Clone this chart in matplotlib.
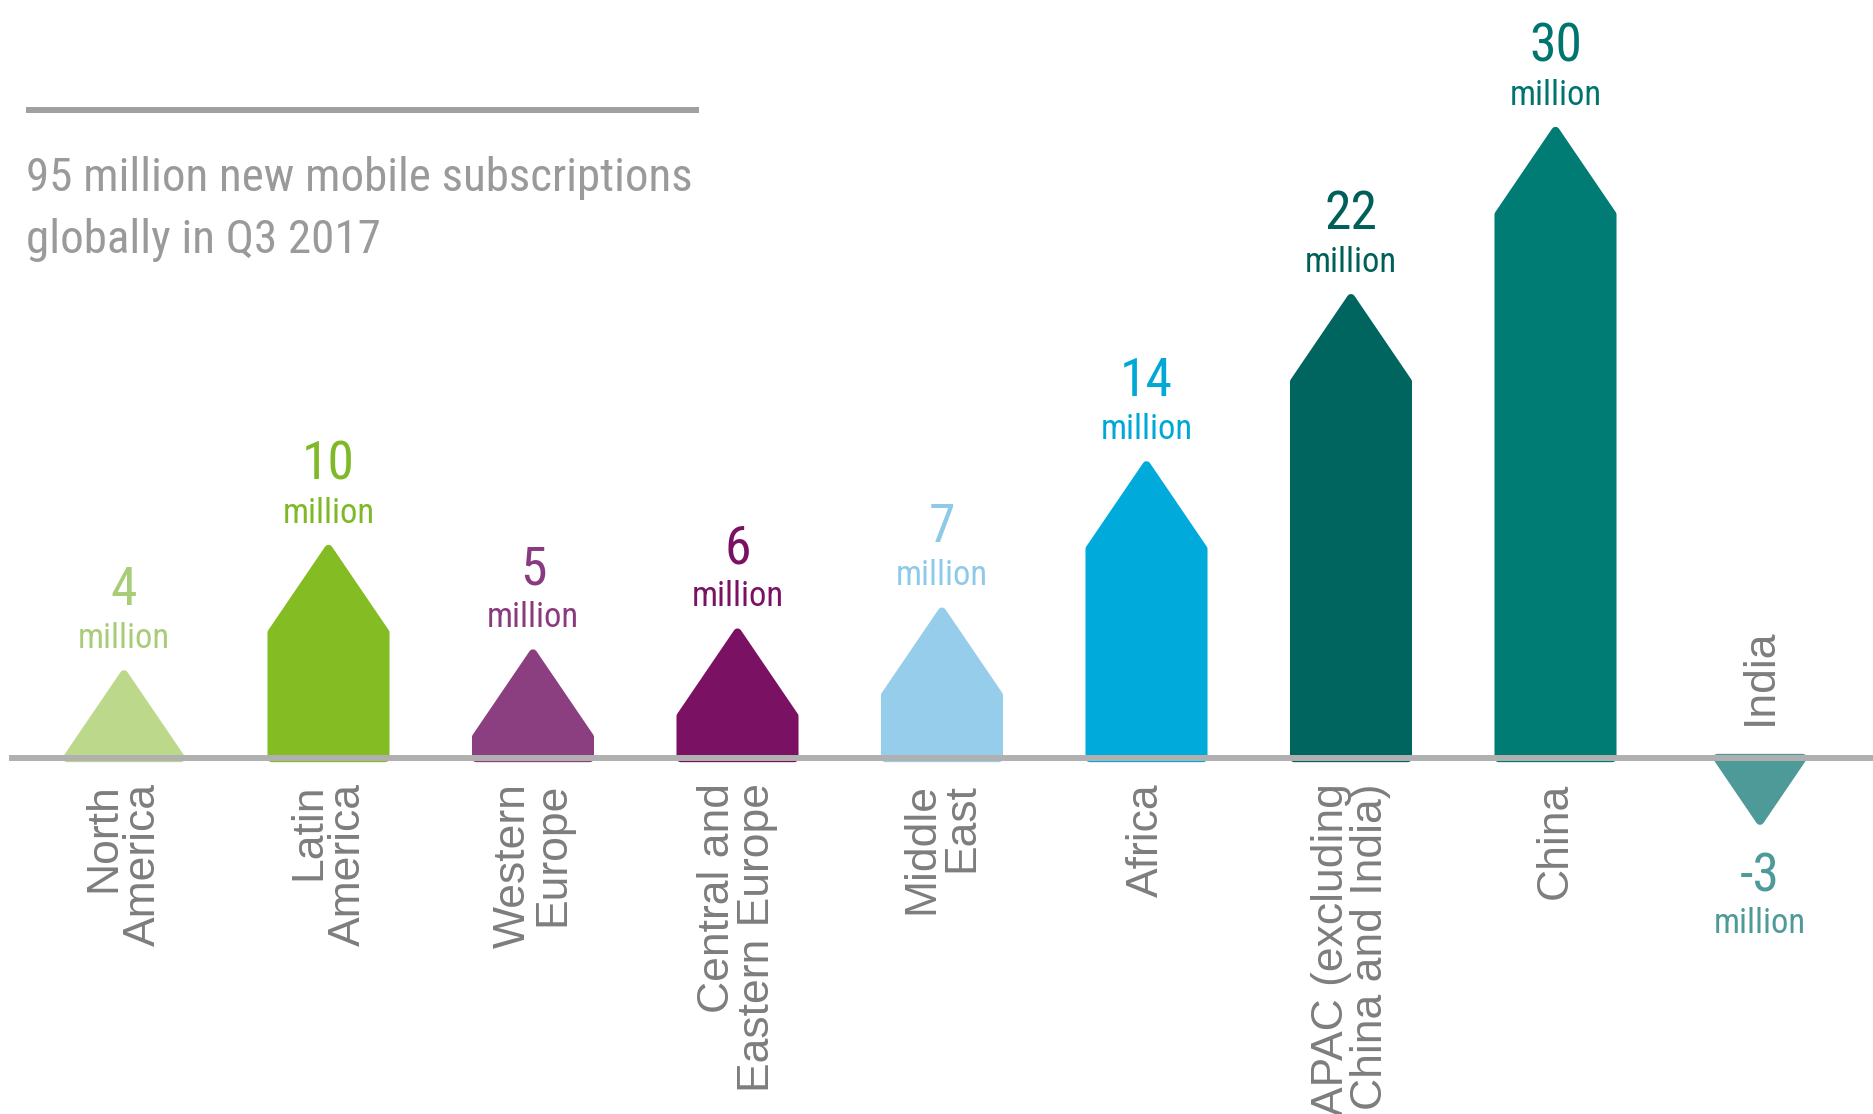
import matplotlib
matplotlib.use('Agg')
import matplotlib.pyplot as plt
from matplotlib.patches import Polygon
from matplotlib.lines import Line2D
from matplotlib import font_manager as fm

categories = ["North\nAmerica", "Latin\nAmerica", "Western\nEurope",
              "Central and\nEastern Europe", "Middle\nEast", "Africa",
              "APAC (excluding\nChina and India)", "China", "India"]
values = [4, 10, 5, 6, 7, 14, 22, 30, -3]
value_labels = ["4", "10", "5", "6", "7", "14", "22", "30", "-3"]
unit_label = "million"
bar_colors = ["#bcd88a", "#84bc23", "#8c3f80", "#7b1163", "#95cdea",
              "#00aada", "#00655e", "#007c75", "#4e9a98"]
label_colors = ["#a9cc78", "#7fb927", "#8a3a7e", "#7b1163", "#8ecae8",
                "#00a8d6", "#005f58", "#00756f", "#4e9a98"]
title_lines = ["95 million new mobile subscriptions", "globally in Q3 2017"]

names = {f.name for f in fm.fontManager.ttflist}


def pick(prefs):
    for p in prefs:
        if p in names:
            return p
    return 'DejaVu Sans'


narrow = pick(['Roboto Condensed', 'Archivo Narrow', 'PT Sans Narrow',
               'Fira Sans Condensed', 'Liberation Sans Narrow', 'Roboto'])
regular = pick(['Liberation Sans', 'Arimo', 'DejaVu Sans'])

W, H = 1874, 1114
fig = plt.figure(figsize=(W / 100, H / 100), dpi=100)
ax = fig.add_axes([0, 0, 1, 1])
ax.axis('off')

PX_Y = 20.9      # pixels per data unit vertically
PX_X = 204.5     # pixels per category
Y0 = 758         # baseline pixel row
X0 = 124         # first category pixel column
ax.set_ylim(-(H - Y0) / PX_Y, Y0 / PX_Y)
ax.set_xlim(-X0 / PX_X, (W - X0) / PX_X)

hw = 0.278
roof = 4.0
num_texts, unit_texts = [], []
for i, v in enumerate(values):
    a = abs(v)
    s = 1 if v > 0 else -1
    if a >= roof:
        pts = [(i - hw, 0), (i - hw, s * (a - roof)), (i, v),
               (i + hw, s * (a - roof)), (i + hw, 0)]
    else:
        w = hw * a / roof
        pts = [(i - w, 0), (i, v), (i + w, 0)]
    ax.add_patch(Polygon(pts, closed=True, facecolor=bar_colors[i],
                         edgecolor=bar_colors[i], lw=6, joinstyle='round',
                         zorder=2))
    if v > 0:
        num_off, unit_off, cat_off, cat_va = 50, 19, -18, 'top'
    else:
        num_off, unit_off, cat_off, cat_va = -51, -81, 24, 'bottom'
    num_texts.append(ax.annotate(value_labels[i], (i, v), xytext=(0, num_off),
                                 textcoords='offset points', ha='center', va='baseline',
                                 fontsize=40, color=label_colors[i], family=narrow))
    unit_texts.append(ax.annotate(unit_label, (i, v), xytext=(0, unit_off),
                                  textcoords='offset points', ha='center', va='baseline',
                                  fontsize=28, color=label_colors[i], family=narrow))
    ax.annotate(categories[i], (i, 0), xytext=(0, cat_off), textcoords='offset points',
                ha='center', va=cat_va, rotation=90, multialignment='right',
                linespacing=0.95, fontsize=32, color='#7d7d7d', family=regular)

ax.axhline(0, xmin=12 / W, xmax=1, color='#b0b0b0', lw=4.3, zorder=3)

fig.add_artist(Line2D([26 / W, 699 / W], [1 - 110 / H] * 2, lw=4.3,
                      color='#a0a0a0', solid_capstyle='butt'))
t1 = fig.text(26 / W, 1 - 191 / H, title_lines[0], va='baseline', ha='left',
              fontsize=37, color='#9a9a9a', family=narrow)
t2 = fig.text(26 / W, 1 - 253 / H, title_lines[1], va='baseline', ha='left',
              fontsize=37, color='#9a9a9a', family=narrow)

# fit font sizes to the reference's text widths
fig.canvas.draw()
r = fig.canvas.get_renderer()
w1 = t1.get_window_extent(r).width
fs_title = 37 * 667 / w1
t1.set_fontsize(fs_title)
t2.set_fontsize(fs_title)
wu = unit_texts[0].get_window_extent(r).width
fs_unit = 28 * 92 / wu
for t in unit_texts:
    t.set_fontsize(fs_unit)
wn = num_texts[7].get_window_extent(r).width
fs_num = 40 * 53 / wn
for t in num_texts:
    t.set_fontsize(fs_num)

fig.savefig('out.png', dpi=100, facecolor='white')
